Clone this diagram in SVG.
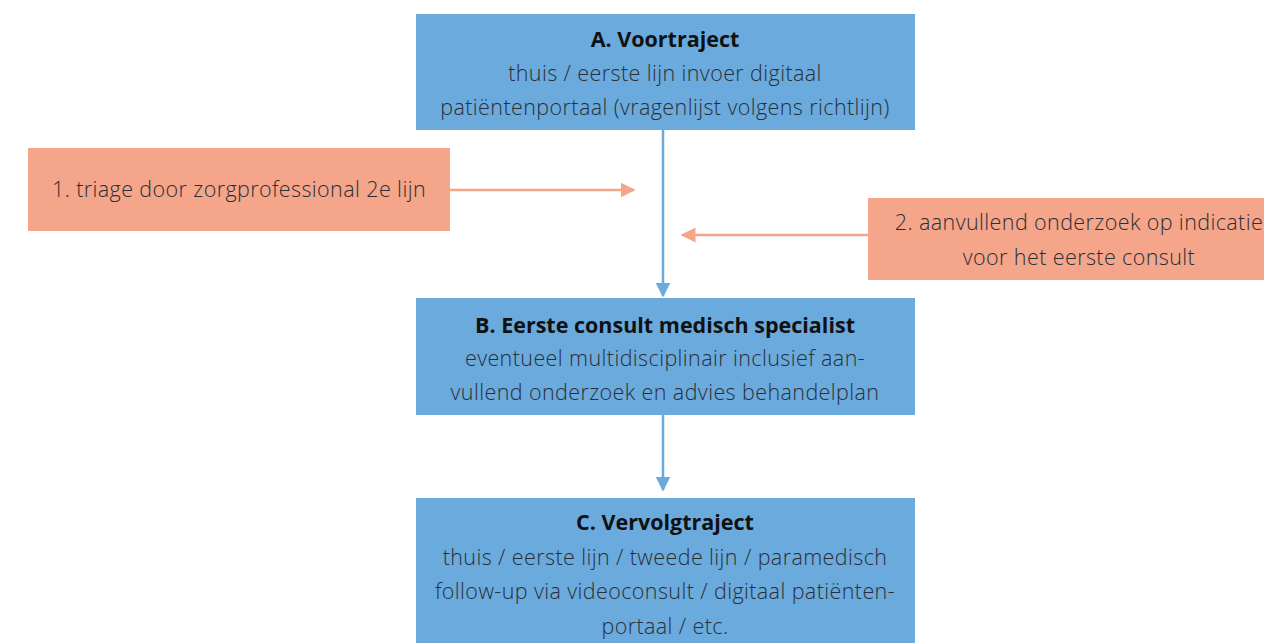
<svg xmlns="http://www.w3.org/2000/svg" width="1264" height="643" viewBox="0 0 1264 643">
<defs>
<style>
.blue{fill:#6aaadd}
.sal{fill:#f4a58a}
.t{font-family:"Open Sans","Noto Sans","Liberation Sans",sans-serif;font-size:21.5px;text-anchor:middle}
.b{font-weight:bold;fill:#111}
.n{fill:#2a2f36;font-weight:300;letter-spacing:0.4px}
.cb{stroke:#6aaadd;stroke-width:2.5;fill:none}
.cs{stroke:#f4a58a;stroke-width:2.5;fill:none}
</style>
<marker id="ab" viewBox="0 0 10 10" refX="9" refY="5" markerWidth="6" markerHeight="6" markerUnits="strokeWidth" orient="auto"><path d="M0,0L10,5L0,10z" fill="#6aaadd"/></marker>
<marker id="as" viewBox="0 0 10 10" refX="9" refY="5" markerWidth="6" markerHeight="6" markerUnits="strokeWidth" orient="auto"><path d="M0,0L10,5L0,10z" fill="#f4a58a"/></marker>
</defs>
<rect width="1264" height="643" fill="#fff"/>
<g id="connectors">
<line class="cb" x1="663" y1="130" x2="663" y2="296" marker-end="url(#ab)"/>
<line class="cb" x1="663" y1="415" x2="663" y2="490" marker-end="url(#ab)"/>
<line class="cs" x1="450" y1="190" x2="634" y2="190" marker-end="url(#as)"/>
<line class="cs" x1="868" y1="235" x2="682" y2="235" marker-end="url(#as)"/>
</g>
<g id="nodeA">
<rect class="blue" x="416" y="14" width="499" height="116"/>
<text class="t b" x="665" y="47">A. Voortraject</text>
<text class="t n" x="665" y="81">thuis / eerste lijn invoer digitaal</text>
<text class="t n" x="665" y="115">patiëntenportaal (vragenlijst volgens richtlijn)</text>
</g>
<g id="node1">
<rect class="sal" x="28" y="148" width="422" height="83"/>
<text class="t n" x="239" y="197">1. triage door zorgprofessional 2e lijn</text>
</g>
<g id="node2">
<rect class="sal" x="868" y="198" width="422" height="82"/>
<text class="t n" x="1079" y="230">2. aanvullend onderzoek op indicatie</text>
<text class="t n" x="1079" y="265">voor het eerste consult</text>
</g>
<g id="nodeB">
<rect class="blue" x="416" y="298" width="499" height="117"/>
<text class="t b" x="665" y="333">B. Eerste consult medisch specialist</text>
<text class="t n" x="665" y="366">eventueel multidisciplinair inclusief aan-</text>
<text class="t n" x="665" y="400">vullend onderzoek en advies behandelplan</text>
</g>
<g id="nodeC">
<rect class="blue" x="416" y="498" width="499" height="150"/>
<text class="t b" x="665" y="530">C. Vervolgtraject</text>
<text class="t n" x="665" y="565">thuis / eerste lijn / tweede lijn / paramedisch</text>
<text class="t n" x="665" y="599">follow-up via videoconsult / digitaal patiënten-</text>
<text class="t n" x="665" y="634">portaal / etc.</text>
</g>
</svg>
